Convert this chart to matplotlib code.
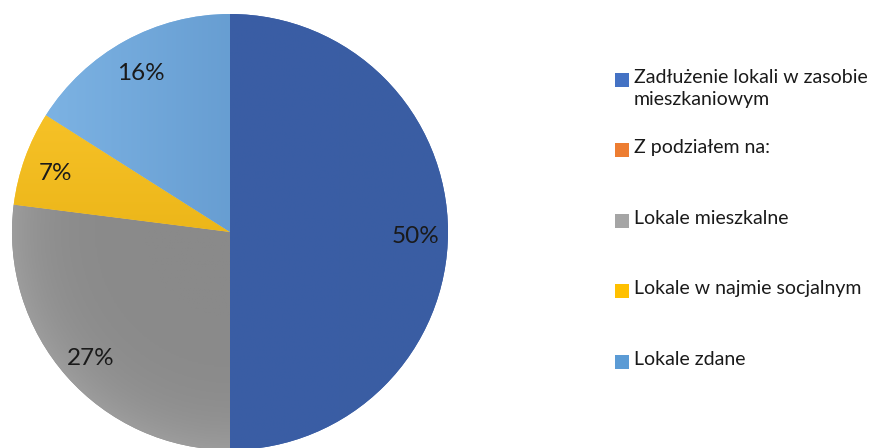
import numpy as np
import matplotlib
matplotlib.use('Agg')
import matplotlib.pyplot as plt
from matplotlib.patches import Rectangle
from matplotlib.colors import LinearSegmentedColormap

plt.rcParams['font.family'] = ['Lato', 'DejaVu Sans']

labels = ['Zadłużenie lokali w zasobie\nmieszkaniowym', 'Z podziałem na:',
          'Lokale mieszkalne', 'Lokale w najmie socjalnym', 'Lokale zdane']
shares = [50, 0, 27, 7, 16]
pct_labels = ['50%', '', '27%', '7%', '16%']
legend_colors = ['#4472C4', '#ED7D31', '#A5A5A5', '#FFC000', '#5B9BD5']
# shaded pie colours (light, dark) to imitate the office gradient fill
pie_shades = [('#3A5FA7', '#3A5DA3'), ('#ED7D31', '#ED7D31'), ('#8A8A8A', '#9C9C9C'),
              ('#FFCB33', '#DAA200'), ('#80B6E6', '#4F86BE')]
grad_dir = ['h', 'h', 'r', 'v', 'h']

fig = plt.figure(figsize=(8.8, 4.48), dpi=100)
ax = fig.add_axes([12 / 880, -2 / 448, 436 / 880, 436 / 448])

wedges, _ = ax.pie(shares, colors=[s[0] for s in pie_shades], startangle=90,
                   counterclock=False, radius=1, wedgeprops=dict(linewidth=0))

n = 300
xx, yy = np.meshgrid(np.linspace(-1, 1, n), np.linspace(1, -1, n))
for w, (light, dark), d in zip(wedges, pie_shades, grad_dir):
    cmap = LinearSegmentedColormap.from_list('g', [light, dark])
    if d == 'h':
        g = (xx + 1) / 2
    elif d == 'v':
        g = (1 - yy) / 2
    else:
        g = np.clip(np.hypot(xx, yy), 0, 1) ** 6
    im = ax.imshow(g, cmap=cmap, extent=(-1, 1, -1, 1), zorder=w.get_zorder() + 0.1)
    im.set_clip_path(w)

# percent labels
ang = 90.0
for s, t in zip(shares, pct_labels):
    mid = np.deg2rad(ang - s * 3.6 / 2)
    ang -= s * 3.6
    if t:
        ax.text(0.85 * np.cos(mid), 0.85 * np.sin(mid) - 0.02, t, ha='center', va='center',
                fontsize=17.5, color='#1a1a1a', zorder=10)

ax.set_xlim(-1, 1)
ax.set_ylim(-1, 1)
ax.set_aspect('equal')
ax.axis('off')

# legend drawn by hand
rows_y = [80, 150, 221, 291, 362]
for lab, col, y in zip(labels, legend_colors, rows_y):
    fig.patches.append(Rectangle((615 / 880, 1 - (y + 7) / 448), 14 / 880, 14 / 448,
                                 transform=fig.transFigure, facecolor=col, edgecolor='none'))
    fig.text(634 / 880, 1 - (y - 11) / 448, lab, ha='left', va='top', fontsize=14,
             color='#1a1a1a', linespacing=1.38)

fig.savefig('out.png', dpi=100)
